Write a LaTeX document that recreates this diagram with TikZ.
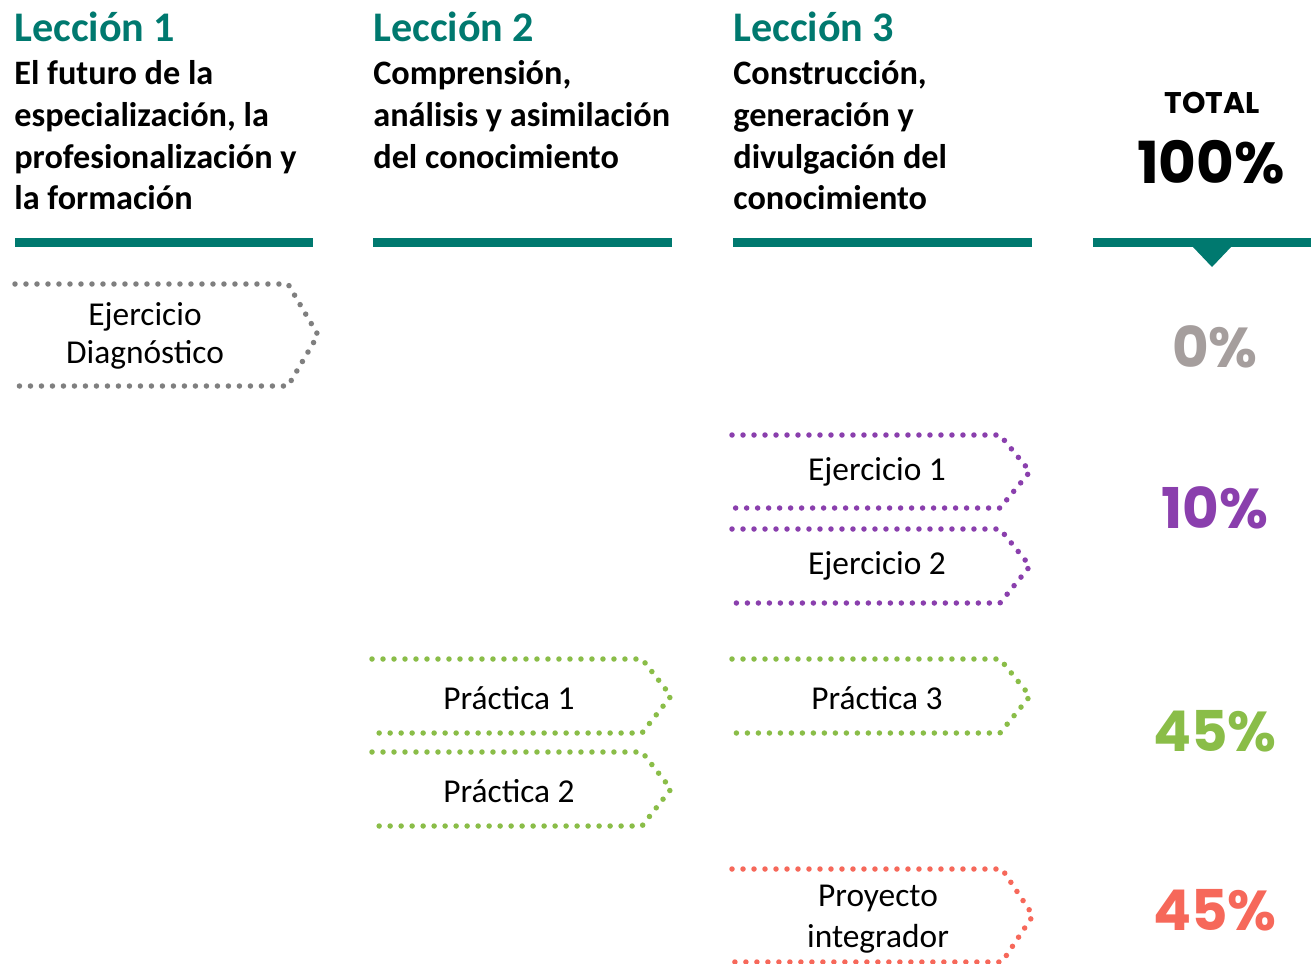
\documentclass[tikz,border=0pt]{standalone}
\usepackage{fontspec}
\setmainfont{Carlito}
\newfontfamily\popfont{Poppins}
\definecolor{leccion}{HTML}{00796F}
\definecolor{dgray}{HTML}{7F7F7F}
\definecolor{pgray}{HTML}{A59E9D}
\definecolor{morado}{HTML}{8A3FAD}
\definecolor{verde}{HTML}{8ABD48}
\definecolor{rojo}{HTML}{F6685A}
\tikzset{
  titulo/.style={anchor=base west, inner sep=0pt, text=leccion, font=\fontsize{24}{29}\selectfont\bfseries},
  tema/.style={anchor=north west, inner sep=0pt, align=left, font=\fontsize{19.5}{23.8}\selectfont\bfseries},
  tarea/.style={inner sep=0pt, align=center, font=\fontsize{19}{21.8}\selectfont},
  puntos/.style={line width=0.11cm, line cap=round, dash pattern=on 0pt off 0.22cm},
  porcentaje/.style={inner sep=0pt, font=\popfont\bfseries\fontsize{32}{32}\selectfont}
}
% chevron abierto: color, izquierda, esquina, punta, arriba, abajo
\newcommand{\flecha}[6]{%
  \draw[puntos, #1] (#2,#5) -- (#3,#5) -- (#4,{(#5+#6)/2}) -- (#3,#6) -- (#2,#6);
}
\begin{document}
\begin{tikzpicture}[x=0.02cm, y=-0.02cm]
	\useasboundingbox (0,0) rectangle (1311,963);
	
	% encabezados
	\node[titulo] (l1) at (14,42) {Lección 1};
	\node[titulo] (l2) at (373,42) {Lección 2};
	\node[titulo] (l3) at (733,42) {Lección 3};
	\node[tema] (t1) at (14,60) {El futuro de la\\especialización, la\\profesionalización y\\la formación};
	\node[tema] (t2) at (373,60) {Comprensión,\\análisis y asimilación\\del conocimiento};
	\node[tema] (t3) at (733,60) {Construcción,\\generación y\\divulgación del\\conocimiento};
	\node[inner sep=0pt, font=\popfont\bfseries\fontsize{17}{17}\selectfont] (total) at (1212,103) {TOTAL};
	\node[porcentaje, font=\popfont\bfseries\fontsize{33}{33}\selectfont] (cien) at (1211,162) {100\%};
	
	% barras
	\fill[leccion] (15,238) rectangle (313,247);
	\fill[leccion] (373,238) rectangle (672,247);
	\fill[leccion] (733,238) rectangle (1032,247);
	\fill[leccion] (1093,238) rectangle (1311,247);
	\fill[leccion] (1192,246) -- (1232,246) -- (1212,267) -- cycle;
	
	% actividades
	\flecha{dgray}{15}{288}{318}{284}{386}
	\node[tarea] (diag) at (145,336) {Ejercicio\\Diagnóstico};
	
	\flecha{morado}{732}{1000}{1030}{435}{508}
	\node[tarea] (ej1) at (877,472) {Ejercicio 1};
	\flecha{morado}{732}{1000}{1030}{529}{603}
	\node[tarea] (ej2) at (877,566) {Ejercicio 2};
	
	\flecha{verde}{372}{642}{671}{659}{733}
	\node[tarea] (pr1) at (509,698) {Práctica 1};
	\flecha{verde}{372}{642}{671}{752}{826}
	\node[tarea] (pr2) at (509,791) {Práctica 2};
	\flecha{verde}{732}{1000}{1030}{659}{733}
	\node[tarea] (pr3) at (877,698) {Práctica 3};
	
	\flecha{rojo}{732}{1002}{1033}{869}{962}
	\node[tarea, font=\fontsize{19}{23}\selectfont] (proy) at (878,919) {Proyecto\\integrador};
	
	% porcentajes
	\node[porcentaje, text=pgray] (p0) at (1215,347) {0\%};
	\node[porcentaje, text=morado] (p10) at (1215,508) {10\%};
	\node[porcentaje, text=verde] (p45a) at (1215,731) {45\%};
	\node[porcentaje, text=rojo] (p45b) at (1215,910) {45\%};
\end{tikzpicture}
\end{document}
